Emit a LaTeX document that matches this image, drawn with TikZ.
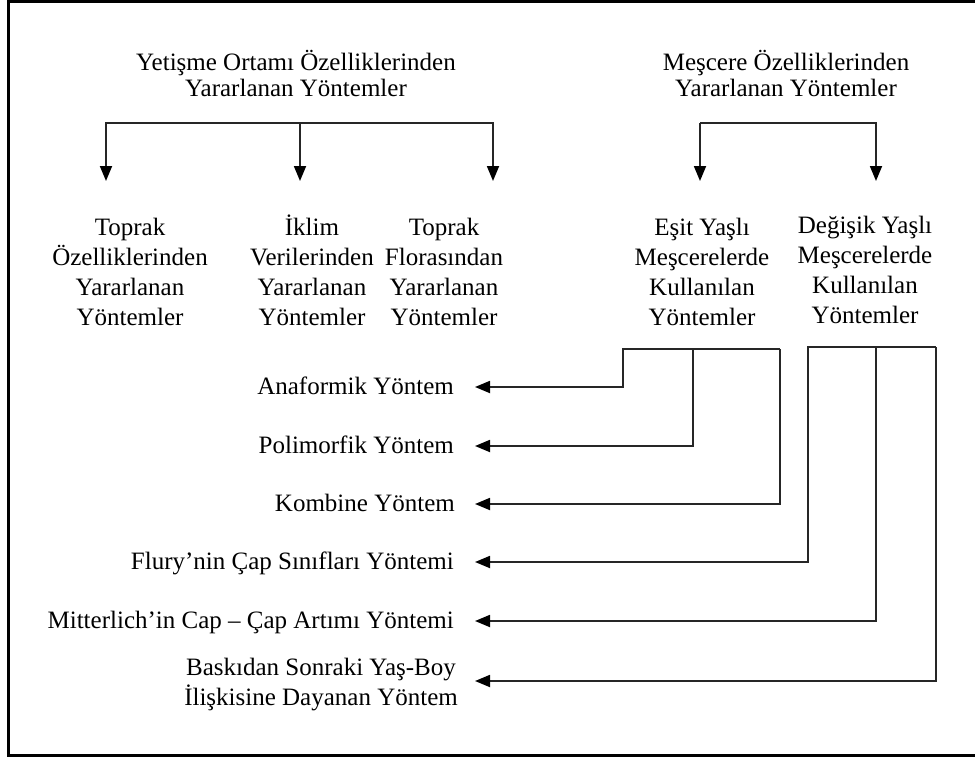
\documentclass[tikz,border=0pt]{standalone}
\usepackage{fontspec}
\setmainfont{Liberation Serif}
\usetikzlibrary{arrows.meta}
\begin{document}
\begin{tikzpicture}[x=1pt,y=-1pt,
  ln/.style={line width=1.8pt,draw=black!85},
  arr/.style={ln,-{Triangle[length=15pt,width=12pt,color=black]}},
  ttl/.style={align=center,inner sep=0pt,font=\fontsize{25}{26}\selectfont},
  sub/.style={align=center,inner sep=0pt,anchor=north,font=\fontsize{25}{30}\selectfont},
  lbl/.style={inner sep=0pt,anchor=base east,font=\fontsize{25}{30}\selectfont}]
\useasboundingbox (0,0) rectangle (975,758);
\draw[line width=3.5pt] (985,1.5) -- (8.5,1.5) -- (8.5,755.5) -- (985,755.5);

% titles
\node[ttl,anchor=north] (t1) at (296,50) {Yetişme Ortamı Özelliklerinden\\Yararlanan Yöntemler};
\node[ttl,anchor=north] (t2) at (786,50) {Meşcere Özelliklerinden\\Yararlanan Yöntemler};

% sub nodes
\node[sub] (s1) at (130,218) {Toprak\\Özelliklerinden\\Yararlanan\\Yöntemler};
\node[sub] (s2) at (312,215) {İklim\\Verilerinden\\Yararlanan\\Yöntemler};
\node[sub] (s3) at (444,218) {Toprak\\Florasından\\Yararlanan\\Yöntemler};
\node[sub] (s4) at (702,218) {Eşit Yaşlı\\Meşcerelerde\\Kullanılan\\Yöntemler};
\node[sub] (s5) at (865,216) {Değişik Yaşlı\\Meşcerelerde\\Kullanılan\\Yöntemler};

% top brackets
\coordinate (b1) at (106,123); \coordinate (b2) at (300,123); \coordinate (b3) at (493,123);
\coordinate (b4) at (700,123); \coordinate (b5) at (876,123);
\draw[arr] (b2) -- (b1) -- (b1 |- 0,181);
\draw[arr] (b2) -- (b2 |- 0,181);
\draw[arr] (b2) -- (b3) -- (b3 |- 0,181);
\draw[arr] (b4) -- (b4 |- 0,181);
\draw[arr] (b4) -- (b5) -- (b5 |- 0,181);

% labels
\node[lbl] (l1) at (454,394) {Anaformik Yöntem};
\node[lbl] (l2) at (454,453) {Polimorfik Yöntem};
\node[lbl] (l3) at (455,511) {Kombine Yöntem};
\node[lbl] (l4) at (454,569) {Flury’nin Çap Sınıfları Yöntemi};
\node[lbl] (l5) at (454,628) {Mitterlich’in Cap – Çap Artımı Yöntemi};
\node[align=center,inner sep=0pt,anchor=north east,font=\fontsize{25}{30}\selectfont] (l6) at (458,658) {Baskıdan Sonraki Yaş-Boy\\İlişkisine Dayanan Yöntem};

% arrow tips
\coordinate (a1) at (475,387); \coordinate (a2) at (475,446); \coordinate (a3) at (475,504);
\coordinate (a4) at (475,562); \coordinate (a5) at (475,621); \coordinate (a6) at (475,681);

% lower brackets
\coordinate (e1) at (623,349); \coordinate (e2) at (693,349); \coordinate (e3) at (780,349);
\coordinate (d1) at (808,347); \coordinate (d2) at (876,347); \coordinate (d3) at (936,347);
\draw[arr] (e3) -- (e1) |- (a1);
\draw[arr] (e2) |- (a2);
\draw[arr] (e3) |- (a3);
\draw[arr] (d3) -- (d1) |- (a4);
\draw[arr] (d2) |- (a5);
\draw[arr] (d3) |- (a6);
\end{tikzpicture}
\end{document}
